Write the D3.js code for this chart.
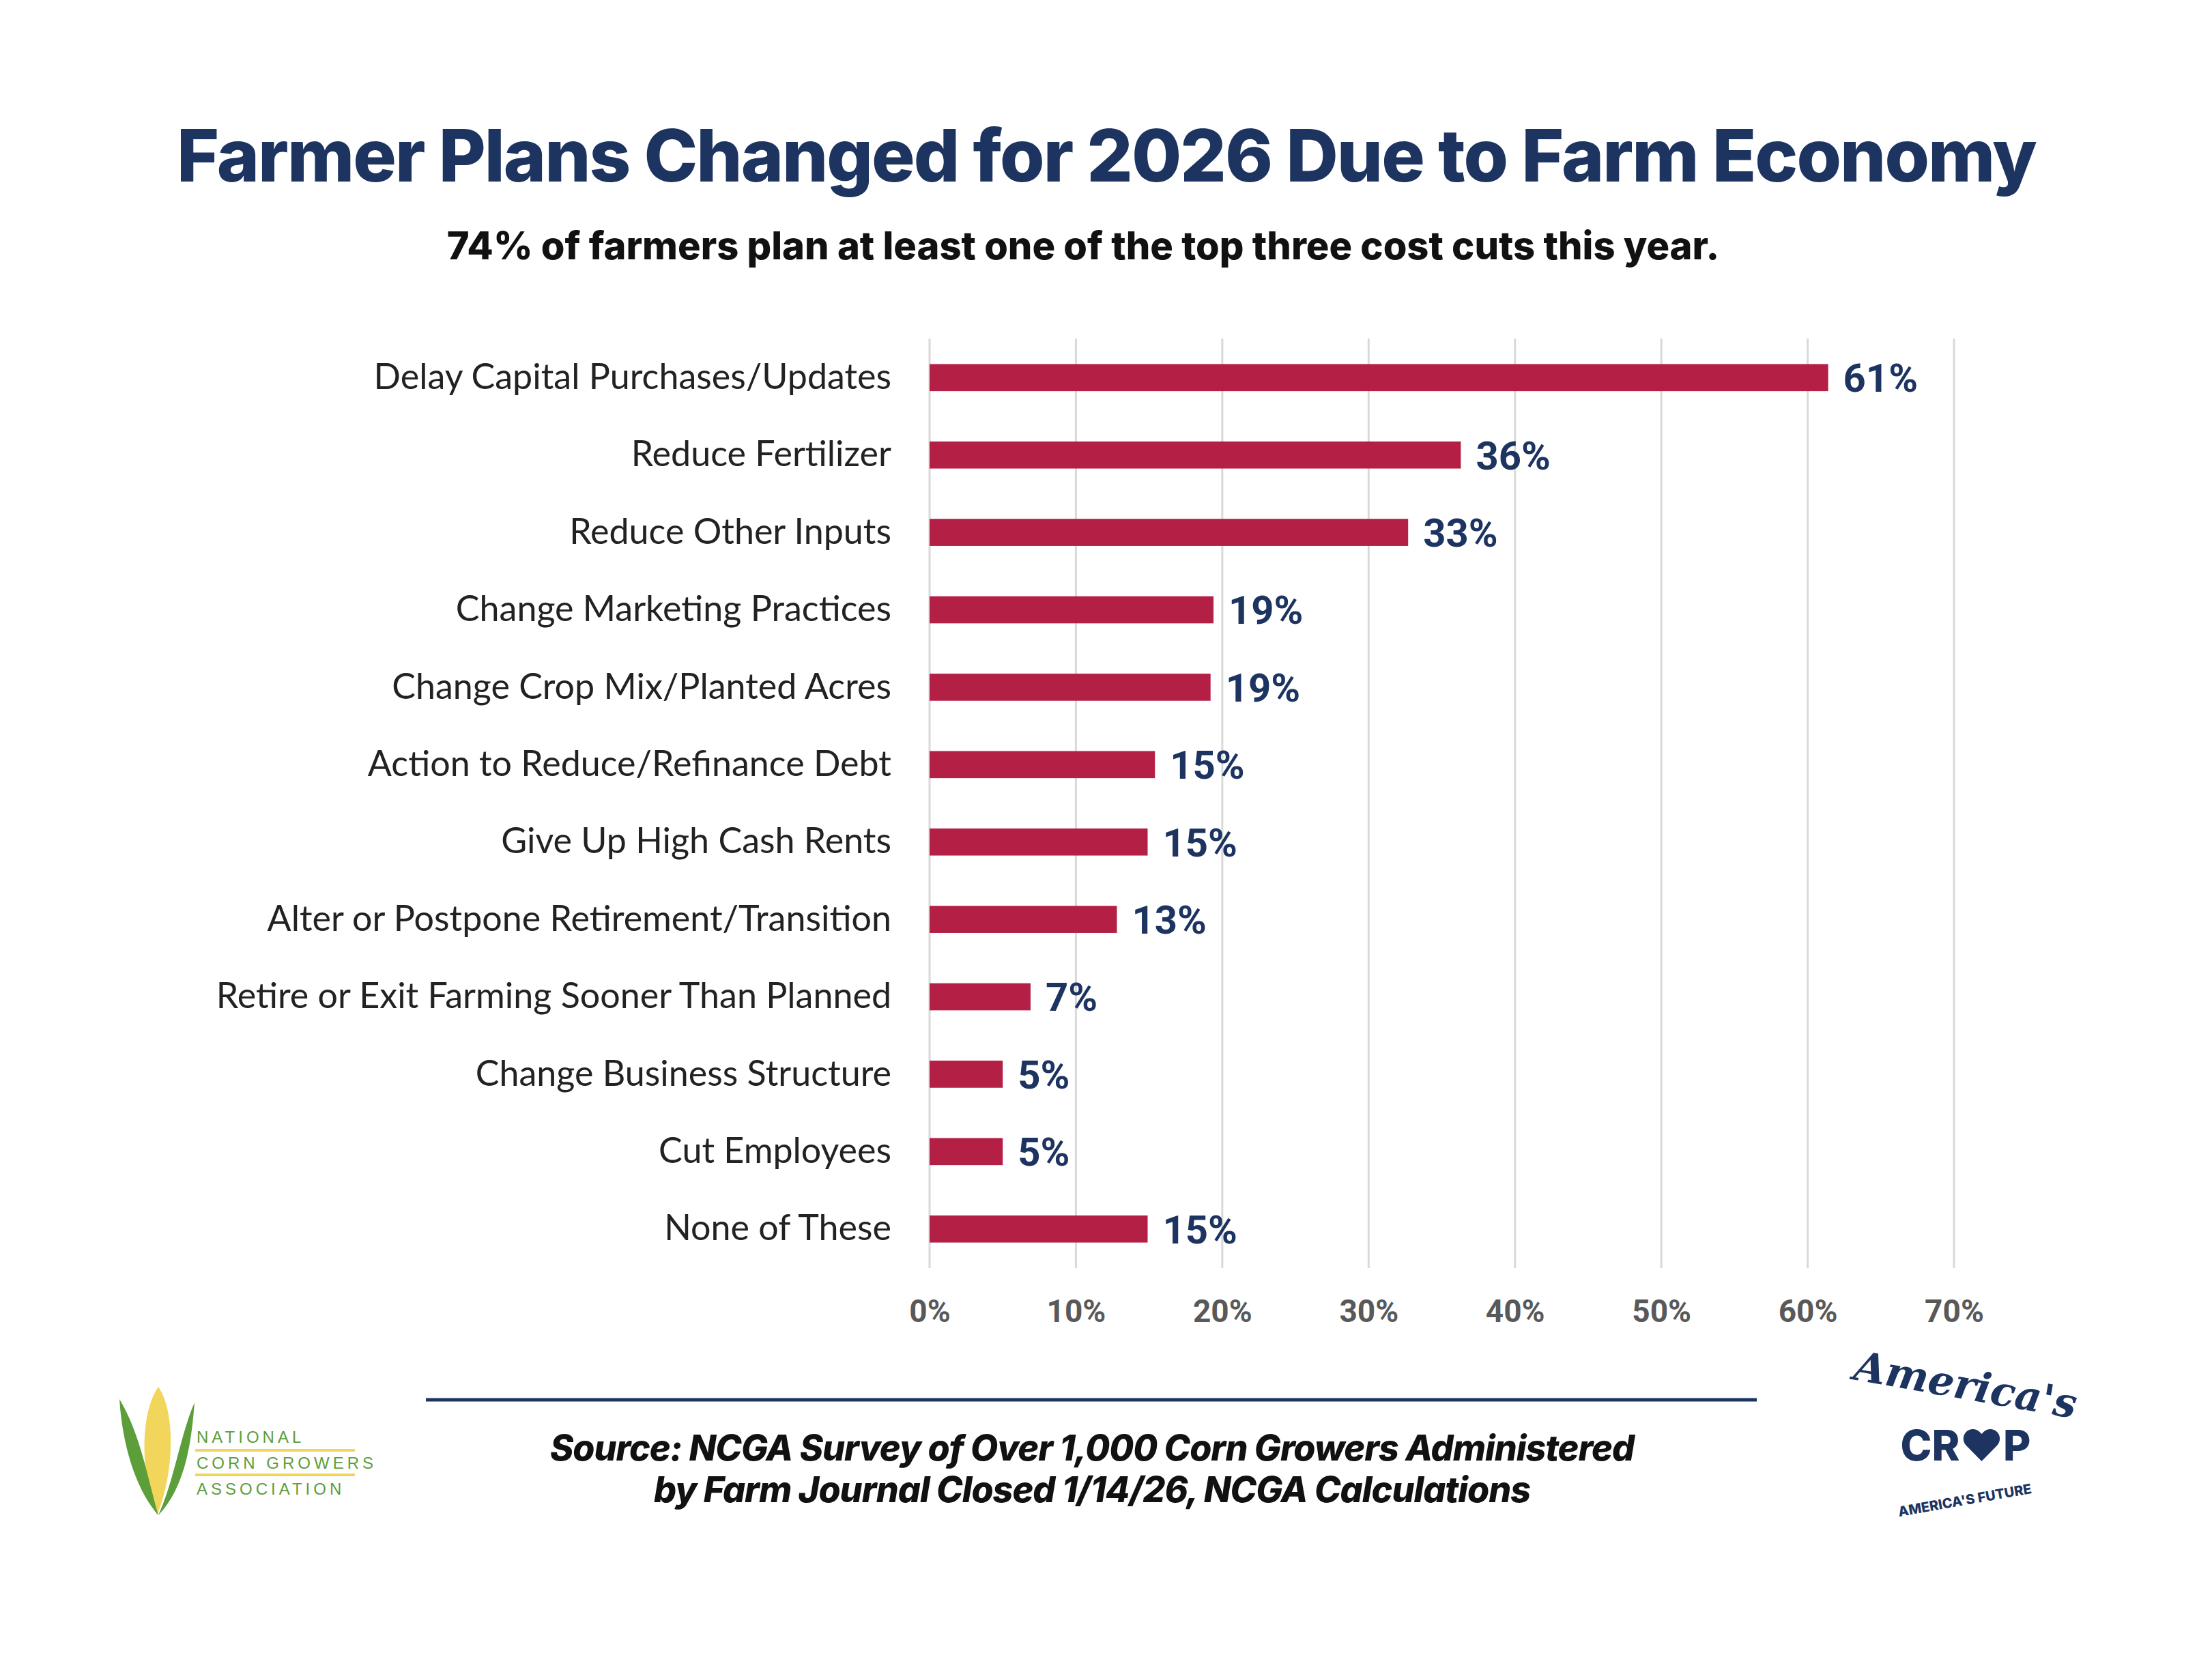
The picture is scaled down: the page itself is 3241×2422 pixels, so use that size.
<!DOCTYPE html>
<html>
<head>
<meta charset="utf-8">
<script src="https://cdn.jsdelivr.net/npm/d3@7"></script>
<style>
  body { margin: 0; background: #fff; }
</style>
</head>
<body>
<div id="chart"></div>
<script>
// Chart data
var categories = [
  "Delay Capital Purchases/Updates",
  "Reduce Fertilizer",
  "Reduce Other Inputs",
  "Change Marketing Practices",
  "Change Crop Mix/Planted Acres",
  "Action to Reduce/Refinance Debt",
  "Give Up High Cash Rents",
  "Alter or Postpone Retirement/Transition",
  "Retire or Exit Farming Sooner Than Planned",
  "Change Business Structure",
  "Cut Employees",
  "None of These"
];
var values = [61.4, 36.3, 32.7, 19.4, 19.2, 15.4, 14.9, 12.8, 6.9, 5.0, 5.0, 14.9];
var valueLabels = ["61%", "36%", "33%", "19%", "19%", "15%", "15%", "13%", "7%", "5%", "5%", "15%"];
var tickValues = [0, 10, 20, 30, 40, 50, 60, 70];

var svgWidth = 3241, svgHeight = 2422;
var margin = { top: 496, left: 1362, right: 3241 - 2863, bottom: 2422 - 1858 };
var width = svgWidth - margin.left - margin.right;
var height = svgHeight - margin.top - margin.bottom;

var navy = "#1d3461";

var svg = d3.select("#chart").append("svg")
  .attr("width", svgWidth)
  .attr("height", svgHeight);

// Titles
svg.append("text")
  .attr("x", 1621).attr("y", 266)
  .attr("text-anchor", "middle")
  .style("font-family", "Inter, 'Open Sans', sans-serif")
  .style("font-weight", 800)
  .style("font-size", "106px")
  .style("letter-spacing", "-2px")
  .attr("fill", navy)
  .text("Farmer Plans Changed for 2026 Due to Farm Economy");

svg.append("text")
  .attr("x", 1587).attr("y", 380)
  .attr("text-anchor", "middle")
  .style("font-family", "Inter, 'Open Sans', sans-serif")
  .style("font-weight", 800)
  .style("font-size", "56px")
  .style("letter-spacing", "0px")
  .attr("fill", "#111")
  .text("74% of farmers plan at least one of the top three cost cuts this year.");

var chartGroup = svg.append("g")
  .attr("transform", `translate(${margin.left}, ${margin.top})`);

var x = d3.scaleLinear().domain([0, 70]).range([0, width]);
var y = d3.scaleBand().domain(categories).range([0, height]).paddingInner(0.65).paddingOuter(0.33);

// Gridlines
chartGroup.selectAll(".grid")
  .data(tickValues)
  .enter().append("line")
  .attr("x1", d => x(d)).attr("x2", d => x(d))
  .attr("y1", 0).attr("y2", height)
  .attr("stroke", "#d9d9d9").attr("stroke-width", 3);

// Bars
chartGroup.selectAll(".bar")
  .data(categories)
  .enter().append("rect")
  .attr("x", x(0))
  .attr("y", d => y(d))
  .attr("width", (d, i) => x(values[i]) - x(0))
  .attr("height", y.bandwidth())
  .attr("fill", "#b41f45");

// Value labels
chartGroup.selectAll(".val")
  .data(categories)
  .enter().append("text")
  .attr("x", (d, i) => x(values[i]) + 22)
  .attr("y", d => y(d) + y.bandwidth() / 2)
  .attr("dy", "0.36em")
  .style("font-family", "'Liberation Sans Narrow', 'Roboto', sans-serif")
  .style("font-weight", 700)
  .style("font-size", "58px")
  .attr("fill", navy)
  .text((d, i) => valueLabels[i]);

// Category axis
var yAxis = chartGroup.append("g").call(d3.axisLeft(y).tickSize(0).tickPadding(56));
yAxis.select(".domain").remove();
yAxis.selectAll("text")
  .style("font-family", "Lato, 'Noto Sans', sans-serif")
  .style("font-weight", 400)
  .style("font-size", "52px")
  .attr("fill", "#222");

// Value axis
var xAxis = chartGroup.append("g")
  .attr("transform", `translate(0, ${height})`)
  .call(d3.axisBottom(x).tickValues(tickValues).tickFormat(d => d + "%").tickSize(0).tickPadding(46));
xAxis.select(".domain").remove();
xAxis.selectAll("text")
  .style("font-family", "'Liberation Sans Narrow', 'Roboto', sans-serif")
  .style("font-weight", 700)
  .style("font-size", "46px")
  .attr("fill", "#595959");

// Footer rule and source
svg.append("line")
  .attr("x1", 624).attr("x2", 2574)
  .attr("y1", 2051).attr("y2", 2051)
  .attr("stroke", navy).attr("stroke-width", 5);

var src = svg.append("text")
  .attr("text-anchor", "middle")
  .style("font-family", "Inter, 'Open Sans', sans-serif")
  .style("font-weight", 800)
  .style("font-style", "italic")
  .style("font-size", "52px")
  .style("letter-spacing", "-1px")
  .attr("fill", "#111");
src.append("tspan").attr("x", 1600).attr("y", 2140)
  .text("Source: NCGA Survey of Over 1,000 Corn Growers Administered");
src.append("tspan").attr("x", 1600).attr("y", 2201)
  .text("by Farm Journal Closed 1/14/26, NCGA Calculations");

// NCGA logo (simplified)
var ncga = svg.append("g");
ncga.append("path")
  .attr("d", "M232,2032 C205,2070 205,2160 230,2220 C255,2160 258,2070 232,2032 Z")
  .attr("fill", "#f2d65c");
ncga.append("path")
  .attr("d", "M175,2050 C180,2130 205,2190 232,2220 C215,2160 205,2100 175,2050 Z M285,2055 C265,2100 255,2170 232,2220 C270,2180 280,2120 285,2055 Z")
  .attr("fill", "#5c9e3a");
var ncgaText = ["NATIONAL", "CORN GROWERS", "ASSOCIATION"];
ncga.selectAll(".nt").data(ncgaText).enter().append("text")
  .attr("x", 288).attr("y", (d, i) => 2114 + i * 38)
  .style("font-family", "'Liberation Sans Narrow', sans-serif")
  .style("font-size", "24px")
  .style("letter-spacing", "5px")
  .attr("fill", "#5c9e3a")
  .text(d => d);
ncga.selectAll(".nl").data([2125, 2161]).enter().append("line")
  .attr("x1", 286).attr("x2", 520).attr("y1", d => d).attr("y2", d => d)
  .attr("stroke", "#f2d65c").attr("stroke-width", 4);

// America's Crop logo (simplified)
var ac = svg.append("g");
ac.append("text").attr("x", 2880).attr("y", 2050)
  .attr("text-anchor", "middle").attr("transform", "rotate(10,2880,2030)")
  .style("font-family", "'DejaVu Serif', serif").style("font-style", "italic").style("font-weight", 700)
  .style("font-size", "60px").attr("fill", navy).text("America's");
ac.append("text").attr("x", 2880).attr("y", 2140)
  .attr("text-anchor", "middle")
  .style("font-family", "Inter, sans-serif").style("font-weight", 800)
  .style("font-size", "62px").attr("fill", navy).text("CR\u2665P");
ac.append("text").attr("x", 2880).attr("y", 2205)
  .attr("text-anchor", "middle").attr("transform", "rotate(-10,2880,2205)")
  .style("font-family", "Inter, sans-serif").style("font-weight", 800)
  .style("font-size", "20px").attr("fill", navy).text("AMERICA'S FUTURE");
</script>
</body>
</html>
